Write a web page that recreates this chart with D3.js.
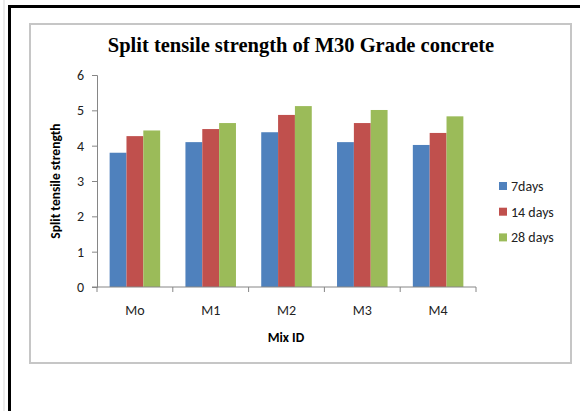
<!DOCTYPE html>
<html lang="en">
<head>
    <meta charset="UTF-8">
    <title>Split tensile strength of M30 Grade concrete</title>
    <script src="https://d3js.org/d3.v7.min.js"></script>
    <style>
        body {
            margin: 0;
            padding: 0;
            background-color: #fff;
        }
        svg text {
            font-family: Carlito, Lato, sans-serif;
        }
    </style>
</head>
<body>
    <div id="chart"></div>

    <script>
        // data
        const mixIds = ["Mo", "M1", "M2", "M3", "M4"];
        const seriesNames = ["7days", "14 days", "28 days"];
        const days7 = [3.80, 4.10, 4.38, 4.10, 4.02];
        const days14 = [4.27, 4.47, 4.87, 4.64, 4.36];
        const days28 = [4.43, 4.64, 5.12, 5.01, 4.83];
        const yTicks = [0, 1, 2, 3, 4, 5, 6];
        const colors = ["#4F81BD", "#C0504D", "#9BBB59"];

        const allSeries = [days7, days14, days28];

        const W = 580, H = 411;
        const svg = d3.select("#chart").append("svg")
            .attr("width", W)
            .attr("height", H);

        // page frame (document border)
        svg.append("line").attr("x1", 4).attr("x2", 4).attr("y1", 0).attr("y2", H)
            .style("stroke", "#ececec").style("stroke-width", 2);
        svg.append("path")
            .attr("d", `M9.5,${H} V6.5 H${W}`)
            .style("fill", "none").style("stroke", "#000").style("stroke-width", 3);

        // chart area box
        svg.append("rect")
            .attr("x", 30).attr("y", 24)
            .attr("width", 541).attr("height", 339)
            .style("fill", "#fff").style("stroke", "#c6c6c6").style("stroke-width", 2);

        // plot area
        const plot = { left: 97, right: 476, top: 75, bottom: 287 };

        const x = d3.scaleBand().domain(mixIds).range([plot.left, plot.right]);
        // 150% gap width like the spreadsheet default
        const bw = x.bandwidth() / 4.5;
        const y = d3.scaleLinear().domain([0, 6]).range([plot.bottom, plot.top]);

        // bars
        allSeries.forEach((vals, s) => {
            svg.append("g").selectAll("rect")
                .data(vals)
                .join("rect")
                .attr("x", (d, i) => x(mixIds[i]) + bw * 0.75 + s * bw)
                .attr("y", d => y(d))
                .attr("width", bw)
                .attr("height", d => y(0) - y(d))
                .style("fill", colors[s]);
        });

        // y axis
        const yAxis = svg.append("g")
            .attr("transform", `translate(${plot.left},0)`)
            .call(d3.axisLeft(y).tickValues(yTicks).tickSize(5).tickPadding(8).tickFormat(d3.format("d")));
        yAxis.select(".domain").style("stroke", "#868686");
        yAxis.selectAll(".tick line").style("stroke", "#868686");
        yAxis.selectAll("text").style("font-size", "14px").style("fill", "#222");

        // x axis with ticks between categories
        const xAxisG = svg.append("g")
            .attr("transform", `translate(0,${plot.bottom})`);
        xAxisG.append("line")
            .attr("x1", plot.left - 5).attr("x2", plot.right)
            .style("stroke", "#868686");
        const boundaries = mixIds.map(m => x(m)).concat([plot.right]);
        xAxisG.selectAll(".xtick")
            .data(boundaries)
            .join("line")
            .attr("x1", d => d).attr("x2", d => d)
            .attr("y1", 0).attr("y2", 5)
            .style("stroke", "#868686");
        xAxisG.selectAll(".xlab")
            .data(mixIds)
            .join("text")
            .attr("x", d => x(d) + x.bandwidth() / 2)
            .attr("y", 28)
            .attr("text-anchor", "middle")
            .style("font-size", "14px")
            .style("fill", "#222")
            .text(d => d);

        // axis titles
        svg.append("text")
            .attr("x", 286).attr("y", 342)
            .attr("text-anchor", "middle")
            .style("font-size", "13.5px").style("font-weight", "bold")
            .text("Mix ID");

        svg.append("text")
            .attr("transform", "translate(60,181) rotate(-90)")
            .attr("text-anchor", "middle")
            .style("font-size", "13.5px").style("font-weight", "bold")
            .text("Split tensile strength");

        // title
        svg.append("text")
            .attr("x", 301).attr("y", 52)
            .attr("text-anchor", "middle")
            .style("font-family", "'Liberation Serif', 'Times New Roman', serif")
            .style("font-size", "20.5px").style("font-weight", "bold")
            .text("Split tensile strength of M30 Grade concrete");

        // legend
        const legend = svg.append("g")
            .selectAll("g")
            .data(seriesNames)
            .join("g")
            .attr("transform", (d, i) => `translate(499,${186 + i * 25.7})`);
        legend.append("rect")
            .attr("x", 0).attr("y", -4)
            .attr("width", 8).attr("height", 8)
            .style("fill", (d, i) => colors[i]);
        legend.append("text")
            .attr("x", 12).attr("y", 5)
            .style("font-size", "14px")
            .style("fill", "#222")
            .text(d => d);
    </script>
</body>
</html>
